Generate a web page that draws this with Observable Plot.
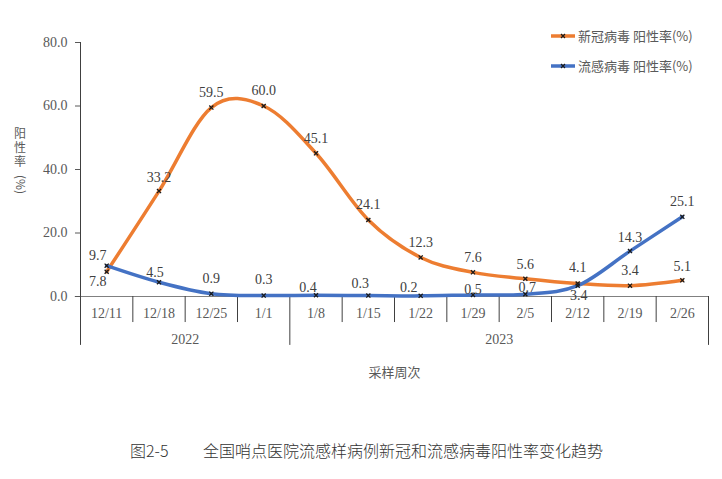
<!DOCTYPE html>
<html>
<head>
<meta charset="utf-8">
<script src="https://cdn.jsdelivr.net/npm/d3@7"></script>
<script src="https://cdn.jsdelivr.net/npm/@observablehq/plot@0.6"></script>
<style>
  html, body { margin: 0; padding: 0; background: #fff; }
  #wrap { position: relative; width: 722px; height: 479px; }
  #cap1, #cap2 { position: absolute; top: 440px; font-family: "Noto Sans CJK SC", sans-serif; font-size: 16px; font-weight: 300; line-height: 20px; color: #333; white-space: nowrap; }
  #cap1 { left: 130px; }
  #cap2 { left: 203px; }
</style>
</head>
<body>
<div id="wrap">
  <div id="chart"></div>
  <div id="cap1">图2-5</div>
  <div id="cap2">全国哨点医院流感样病例新冠和流感病毒阳性率变化趋势</div>
</div>
<script>
const categories = ["12/11","12/18","12/25","1/1","1/8","1/15","1/22","1/29","2/5","2/12","2/19","2/26"];
const years = ["2022", "2023"];
const covidValues = [7.8, 33.2, 59.5, 60.0, 45.1, 24.1, 12.3, 7.6, 5.6, 4.1, 3.4, 5.1];
const fluValues = [9.7, 4.5, 0.9, 0.3, 0.4, 0.3, 0.2, 0.5, 0.7, 3.4, 14.3, 25.1];
const yTicks = [0, 20, 40, 60, 80];
const covidName = "新冠病毒 阳性率(%)";
const fluName = "流感病毒 阳性率(%)";
const xTitle = "采样周次";
const yTitleMain = "阳性率";
const yTitleUnit = "(%)";

// label offsets (placement only)
const covidDx = [-9, 0, 0, 0, 0, 0, 0, 0, 0, 0, 0, 0];
const covidDy = [10, -14, -15, -15, -15, -15, -15, -15, -14, -16, -15, -14];
const fluDx = [-9, -4, 0, 0, -8, -8, -12, 0, 2, 1, 0, 0];
const fluDy = [-10, -10, -15, -16, -8, -12, -8, -5, -7, 10, -14, -15];

const ORANGE = "#ED7D31", BLUE = "#4472C4";
const serif = "'Liberation Serif', 'Times New Roman', serif";
const cjk = "'Noto Sans CJK SC', sans-serif";

const covid = covidValues.map((v, i) => ({i, v}));
const flu = fluValues.map((v, i) => ({i, v}));
const idx = d3.range(categories.length);
const n = categories.length;

function labelMarks(rows, dxs, dys) {
  return rows.map((d, k) => Plot.text([d], {
    x: "i", y: "v", text: r => r.v.toFixed(1), dx: dxs[k], dy: dys[k],
    fontFamily: serif, fontSize: 14, fill: "#404040"
  }));
}

const chart = Plot.plot({
  width: 722,
  height: 400,
  marginLeft: 80,
  marginRight: 14,
  marginTop: 42,
  marginBottom: 104,
  x: {domain: [-0.5, n - 0.5]},
  y: {domain: [0, 80]},
  marks: [
    Plot.ruleY([0], {x1: -0.6, x2: n - 0.5, stroke: "#808080", strokeWidth: 1}),
    Plot.ruleX(d3.range(1, n).filter(k => k !== 4), {x: k => k - 0.5, y1: 0, y2: -8.2, stroke: "#404040", strokeWidth: 1}),
    Plot.ruleX([-0.5], {y1: 80, y2: -15.4, stroke: "#404040", strokeWidth: 1}),
    Plot.ruleX([3.5, n - 0.5], {y1: 0, y2: -15.4, stroke: "#404040", strokeWidth: 1}),
    Plot.axisY({ticks: yTicks, tickFormat: d => d.toFixed(1), tickSize: 5, tickPadding: 8,
      fontFamily: serif, fontSize: 14, color: "#595959", label: null}),
    Plot.axisX({ticks: idx, tickFormat: k => categories[k], tickSize: 0, tickPadding: 12,
      fontFamily: serif, fontSize: 14, color: "#595959", label: null}),
    Plot.axisX({ticks: [1.5, 7.5], tickFormat: (t, k) => years[k], tickSize: 0, tickPadding: 38,
      fontFamily: serif, fontSize: 14, color: "#595959", label: null}),
    Plot.axisX({ticks: [5.5], tickFormat: () => xTitle, tickSize: 0, tickPadding: 71,
      fontFamily: cjk, fontSize: 13, color: "#595959", label: null}),
    Plot.line(covid, {x: "i", y: "v", stroke: ORANGE, strokeWidth: 3.5, curve: "cardinal", tension: 0}),
    Plot.line(flu, {x: "i", y: "v", stroke: BLUE, strokeWidth: 3.5, curve: "cardinal", tension: 0}),
    Plot.dot(covid, {x: "i", y: "v", symbol: "times", r: 2, stroke: "#1a1a1a", strokeWidth: 1.3}),
    Plot.dot(flu, {x: "i", y: "v", symbol: "times", r: 2, stroke: "#1a1a1a", strokeWidth: 1.3}),
    ...labelMarks(covid, covidDx, covidDy),
    ...labelMarks(flu, fluDx, fluDy)
  ]
});

document.getElementById("chart").appendChild(chart);

const svg = d3.select(chart);
// y title: vertical upright characters, then rotated unit
const yt = svg.append("g").attr("font-family", cjk).attr("font-size", 12).attr("fill", "#595959");
yt.append("text").attr("x", 20).attr("y", 127)
  .attr("text-anchor", "start")
  .style("writing-mode", "vertical-rl")
  .style("text-orientation", "upright")
  .style("letter-spacing", "2px")
  .text(yTitleMain);
yt.append("text").attr("text-anchor", "start").attr("transform", `translate(20,175) rotate(90)`)
  .attr("dy", "0.36em").text(yTitleUnit);

// legend
const legend = [{name: covidName, color: ORANGE, y: 36}, {name: fluName, color: BLUE, y: 66}];
const lg = svg.append("g");
legend.forEach(l => {
  lg.append("line").attr("x1", 551).attr("x2", 575).attr("y1", l.y).attr("y2", l.y)
    .attr("stroke", l.color).attr("stroke-width", 3.5);
  lg.append("path").attr("d", `M${561},${l.y - 2}l4,4M${561},${l.y + 2}l4,-4`)
    .attr("stroke", "#1a1a1a").attr("stroke-width", 1.2);
  lg.append("text").attr("x", 578).attr("y", l.y).attr("dy", "0.36em").attr("text-anchor", "start")
    .attr("font-family", cjk).attr("font-size", 13).attr("fill", "#595959").text(l.name);
});
</script>
</body>
</html>
